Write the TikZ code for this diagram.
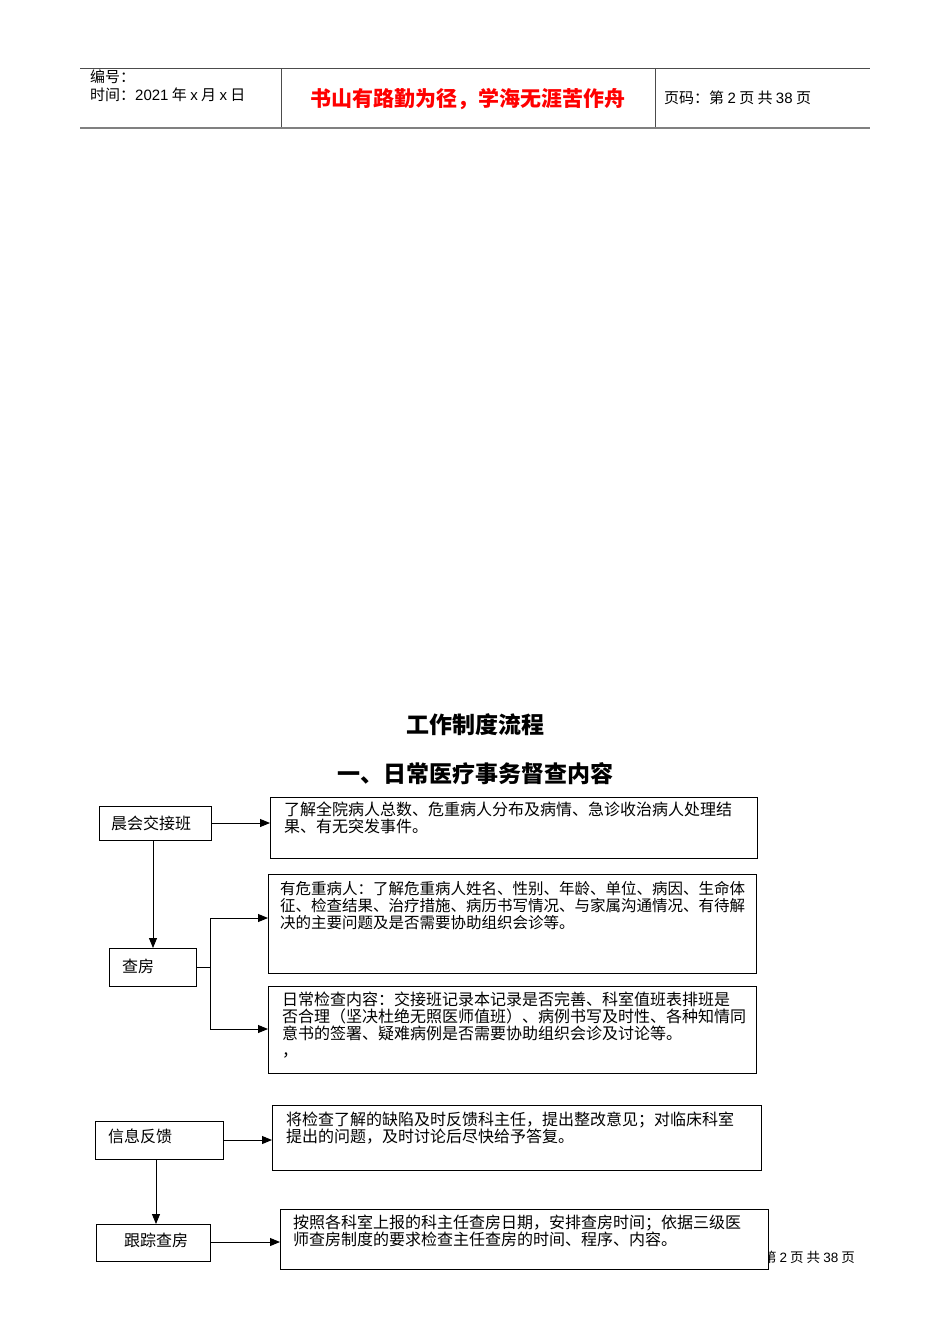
\documentclass[tikz,border=0pt]{standalone}
\usepackage{fontspec}
\setmainfont{Noto Sans CJK SC}
\newfontfamily\hd{Liberation Sans}
\usetikzlibrary{arrows.meta}
\begin{document}
\begin{tikzpicture}[x=1pt,y=-1pt,
  bx/.style={draw,line width=0.9pt,fill=white},
  ar/.style={line width=0.9pt,-{Triangle[length=10pt,width=8pt]}},
  ln/.style={line width=0.9pt},
  tx/.style={anchor=north west,align=left,inner sep=0pt,font=\fontsize{16}{17}\selectfont},
  lb/.style={anchor=west,inner sep=0pt,font=\fontsize{16}{17}\selectfont}]
\useasboundingbox (0,0) rectangle (950,1344);
% header
\draw[line width=0.8pt,gray!60!black] (80,68) -- (870,68) (281,68) -- (281,128) (655,68) -- (655,128);
\draw[line width=1.5pt,gray] (80,128) -- (870,128);
\node[anchor=north west,inner sep=0pt,align=left,font=\fontsize{15}{18}\selectfont] (hl) at (90,70) {编号：\\时间：{\hd 2021} 年 {\hd x} 月 {\hd x} 日};
\node[text=red,font=\fontsize{21}{24}\selectfont\bfseries] (hm) at (468,99) {书山有路勤为径，学海无涯苦作舟};
\node[anchor=west,inner sep=0pt,font=\fontsize{15}{17}\selectfont] (hr) at (664,98) {页码：第 {\hd 2} 页 共 {\hd 38} 页};
% footer (partly hidden)
\node[anchor=east,inner sep=0pt,font=\fontsize{13.5}{15}\selectfont] (ft) at (855,1257) {第 {\hd 2} 页 共 {\hd 38} 页};
% titles
\node[font=\fontsize{23}{26}\selectfont\bfseries] (t1) at (475,725) {工作制度流程};
\node[font=\fontsize{23}{26}\selectfont\bfseries] (t2) at (475,774) {一、日常医疗事务督查内容};
% boxes
\draw[bx] (99,806) rectangle (211,840); \node[lb] (a) at (111,823) {晨会交接班};
\coordinate (aR) at (211,823); \coordinate (aB) at (153,840);
\draw[bx] (270,797) rectangle (757,858); \coordinate (b1L) at (270,823);
\node[tx] (b1) at (284,802) {了解全院病人总数、危重病人分布及病情、急诊收治病人处理结\\果、有无突发事件。};
\draw[bx] (109,948) rectangle (196,986); \node[lb] (c) at (122,966) {查房};
\coordinate (cT) at (153,948); \coordinate (cR) at (196,967); \coordinate (j) at (210,967);
\draw[bx] (268,874) rectangle (756,973); \coordinate (b2L) at (268,918);
\node[tx,font=\fontsize{15.5}{17}\selectfont] (b2) at (280,881) {有危重病人：了解危重病人姓名、性别、年龄、单位、病因、生命体\\征、检查结果、治疗措施、病历书写情况、与家属沟通情况、有待解\\决的主要问题及是否需要协助组织会诊等。};
\draw[bx] (268,986) rectangle (756,1073); \coordinate (b3L) at (268,1029);
\node[tx] (b3) at (282,992) {日常检查内容：交接班记录本记录是否完善、科室值班表排班是\\否合理（坚决杜绝无照医师值班）、病例书写及时性、各种知情同\\意书的签署、疑难病例是否需要协助组织会诊及讨论等。\\，};
\draw[bx] (95,1121) rectangle (223,1159); \node[lb] (d) at (108,1136) {信息反馈};
\coordinate (dR) at (223,1140); \coordinate (dB) at (156,1159);
\draw[bx] (272,1105) rectangle (761,1170); \coordinate (b4L) at (272,1140);
\node[tx] (b4) at (286,1112) {将检查了解的缺陷及时反馈科主任，提出整改意见；对临床科室\\提出的问题，及时讨论后尽快给予答复。};
\draw[bx] (96,1224) rectangle (210,1261); \node[lb] (e) at (124,1240) {跟踪查房};
\coordinate (eT) at (156,1224); \coordinate (eR) at (210,1242);
\draw[bx] (280,1209) rectangle (768,1269); \coordinate (b5L) at (280,1242);
\node[tx] (b5) at (293,1215) {按照各科室上报的科主任查房日期，安排查房时间；依据三级医\\师查房制度的要求检查主任查房的时间、程序、内容。};
% connectors
\draw[ar] (aR) -- (b1L);
\draw[ar] (aB) -- (cT);
\draw[ln] (cR) -- (j);
\draw[ar] (j) |- (b2L);
\draw[ar] (j) |- (b3L);
\draw[ar] (dR) -- (b4L);
\draw[ar] (dB) -- (eT);
\draw[ar] (eR) -- (b5L);
\end{tikzpicture}
\end{document}
